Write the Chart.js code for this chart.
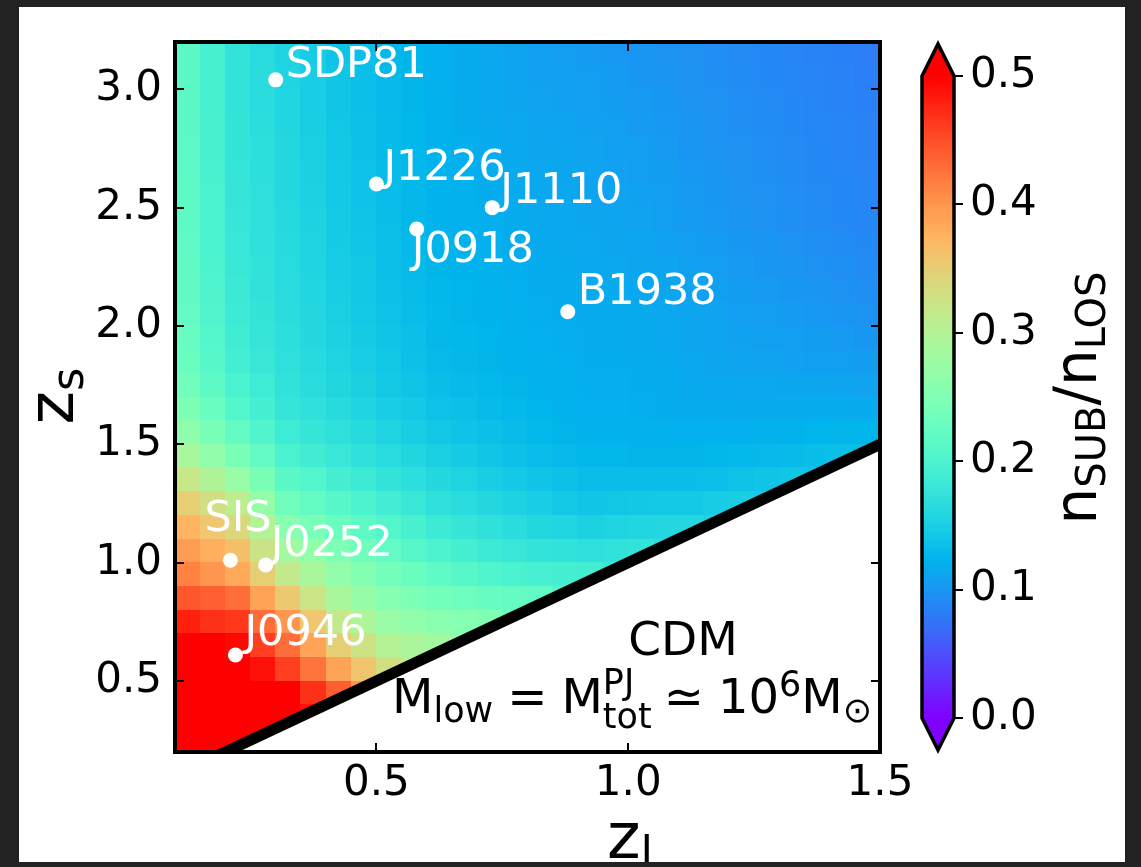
<!DOCTYPE html>
<html>
<head>
<meta charset="utf-8">
<style>
  body { margin: 0; background: #222; }
  #frame { position: absolute; left: 19px; top: 7px; width: 1106px; height: 855px; background: #fff; }
  canvas { display: block; }
</style>
<script src="https://cdn.jsdelivr.net/npm/chart.js"></script>
</head>
<body>
<div id="frame"><canvas id="chart" width="1106" height="855"></canvas></div>
<script>
  // grid of n_SUB/n_LOS, one cell = 0.05 in z_l by 0.1 in z_s
  const zlCenters = [0.125, 0.175, 0.225, 0.275, 0.325, 0.375, 0.425, 0.475, 0.525, 0.575,
                     0.625, 0.675, 0.725, 0.775, 0.825, 0.875, 0.925, 0.975, 1.025, 1.075,
                     1.125, 1.175, 1.225, 1.275, 1.325, 1.375, 1.425, 1.475];
  const zsCenters = [3.15, 3.05, 2.95, 2.85, 2.75, 2.65, 2.55, 2.45, 2.35, 2.25,
                     2.15, 2.05, 1.95, 1.85, 1.75, 1.65, 1.55, 1.45, 1.35, 1.25,
                     1.15, 1.05, 0.95, 0.85, 0.75, 0.65, 0.55, 0.45, 0.35, 0.25];
  const cellW = 0.05, cellH = 0.1;

  // rows top (z_s = 3.15) to bottom (z_s = 0.25); rows stop where the cells fall under z_s = z_l
  const ratio = [
    [0.215, 0.195, 0.175, 0.165, 0.155, 0.148, 0.14, 0.135, 0.129, 0.125, 0.121, 0.118, 0.114, 0.111, 0.108, 0.106, 0.104, 0.102, 0.1, 0.098, 0.096, 0.094, 0.092, 0.09, 0.088, 0.086, 0.084, 0.082],
    [0.215, 0.195, 0.175, 0.166, 0.156, 0.149, 0.141, 0.136, 0.13, 0.126, 0.121, 0.118, 0.115, 0.112, 0.109, 0.108, 0.106, 0.104, 0.101, 0.099, 0.097, 0.095, 0.093, 0.091, 0.089, 0.087, 0.085, 0.083],
    [0.215, 0.195, 0.175, 0.166, 0.157, 0.149, 0.141, 0.136, 0.13, 0.126, 0.122, 0.119, 0.115, 0.113, 0.11, 0.109, 0.107, 0.105, 0.103, 0.101, 0.098, 0.096, 0.094, 0.092, 0.09, 0.088, 0.086, 0.084],
    [0.215, 0.196, 0.176, 0.167, 0.158, 0.15, 0.142, 0.137, 0.131, 0.127, 0.122, 0.119, 0.116, 0.114, 0.112, 0.111, 0.109, 0.107, 0.104, 0.102, 0.099, 0.097, 0.095, 0.093, 0.091, 0.089, 0.087, 0.085],
    [0.216, 0.196, 0.176, 0.168, 0.159, 0.151, 0.143, 0.137, 0.131, 0.127, 0.123, 0.12, 0.117, 0.115, 0.113, 0.112, 0.11, 0.108, 0.106, 0.103, 0.1, 0.098, 0.096, 0.094, 0.092, 0.09, 0.088, 0.086],
    [0.216, 0.197, 0.177, 0.169, 0.16, 0.152, 0.144, 0.138, 0.132, 0.128, 0.123, 0.121, 0.118, 0.116, 0.114, 0.113, 0.111, 0.109, 0.107, 0.105, 0.102, 0.1, 0.097, 0.095, 0.093, 0.091, 0.089, 0.087],
    [0.217, 0.198, 0.178, 0.17, 0.161, 0.153, 0.145, 0.139, 0.133, 0.129, 0.124, 0.122, 0.119, 0.117, 0.115, 0.114, 0.112, 0.111, 0.109, 0.106, 0.103, 0.101, 0.098, 0.096, 0.094, 0.092, 0.09, 0.088],
    [0.217, 0.198, 0.179, 0.171, 0.162, 0.154, 0.146, 0.14, 0.134, 0.129, 0.124, 0.122, 0.12, 0.118, 0.116, 0.115, 0.113, 0.112, 0.11, 0.107, 0.104, 0.102, 0.099, 0.097, 0.095, 0.093, 0.091, 0.089],
    [0.218, 0.199, 0.18, 0.172, 0.163, 0.155, 0.147, 0.141, 0.135, 0.13, 0.125, 0.123, 0.121, 0.119, 0.117, 0.116, 0.114, 0.113, 0.112, 0.109, 0.106, 0.104, 0.101, 0.099, 0.097, 0.095, 0.093, 0.091],
    [0.219, 0.2, 0.181, 0.173, 0.164, 0.156, 0.148, 0.142, 0.136, 0.131, 0.126, 0.124, 0.122, 0.12, 0.118, 0.117, 0.115, 0.114, 0.113, 0.111, 0.108, 0.106, 0.103, 0.101, 0.099, 0.097, 0.095, 0.093],
    [0.22, 0.202, 0.183, 0.174, 0.165, 0.157, 0.149, 0.143, 0.137, 0.132, 0.127, 0.125, 0.123, 0.121, 0.119, 0.118, 0.116, 0.116, 0.115, 0.113, 0.11, 0.108, 0.105, 0.103, 0.101, 0.099, 0.097, 0.095],
    [0.222, 0.204, 0.185, 0.176, 0.166, 0.159, 0.151, 0.145, 0.138, 0.133, 0.128, 0.126, 0.124, 0.122, 0.12, 0.119, 0.117, 0.117, 0.116, 0.114, 0.112, 0.11, 0.107, 0.106, 0.104, 0.102, 0.1, 0.098],
    [0.225, 0.207, 0.188, 0.178, 0.168, 0.161, 0.153, 0.147, 0.14, 0.135, 0.129, 0.127, 0.125, 0.123, 0.121, 0.12, 0.118, 0.118, 0.117, 0.115, 0.113, 0.111, 0.109, 0.108, 0.106, 0.105, 0.103, 0.101],
    [0.229, 0.21, 0.192, 0.181, 0.17, 0.163, 0.155, 0.149, 0.142, 0.137, 0.131, 0.129, 0.126, 0.124, 0.122, 0.121, 0.119, 0.119, 0.118, 0.117, 0.115, 0.113, 0.111, 0.11, 0.109, 0.108, 0.107, 0.105],
    [0.236, 0.217, 0.198, 0.186, 0.173, 0.166, 0.158, 0.152, 0.145, 0.14, 0.134, 0.131, 0.128, 0.126, 0.123, 0.122, 0.12, 0.12, 0.119, 0.118, 0.116, 0.115, 0.114, 0.114, 0.113, 0.113, 0.112, 0.11],
    [0.248, 0.228, 0.207, 0.193, 0.178, 0.171, 0.163, 0.156, 0.149, 0.144, 0.138, 0.135, 0.131, 0.128, 0.125, 0.123, 0.121, 0.121, 0.12, 0.119, 0.118, 0.118, 0.117, 0.117, 0.117, 0.118, 0.118, 0.117],
    [0.265, 0.244, 0.222, 0.204, 0.186, 0.178, 0.17, 0.163, 0.155, 0.149, 0.143, 0.139, 0.135, 0.132, 0.128, 0.126, 0.123, 0.123, 0.122, 0.122, 0.121, 0.121, 0.121, 0.122, 0.123, 0.125, 0.126, 0.125],
    [0.29, 0.268, 0.245, 0.222, 0.198, 0.189, 0.18, 0.172, 0.164, 0.158, 0.151, 0.146, 0.141, 0.137, 0.133, 0.13, 0.127, 0.127, 0.126, 0.126, 0.126, 0.127, 0.128, 0.13, 0.131, 0.134, 0.136, 0.134],
    [0.32, 0.298, 0.275, 0.245, 0.215, 0.205, 0.194, 0.185, 0.176, 0.169, 0.161, 0.155, 0.149, 0.145, 0.14, 0.137, 0.133, 0.133, 0.133, 0.134, 0.134, 0.136, 0.138, 0.14, 0.142, 0.139],
    [0.35, 0.33, 0.31, 0.272, 0.235, 0.223, 0.21, 0.2, 0.19, 0.181, 0.172, 0.166, 0.159, 0.154, 0.149, 0.145, 0.141, 0.142, 0.143, 0.144, 0.145, 0.148, 0.15, 0.146],
    [0.375, 0.358, 0.34, 0.3, 0.258, 0.243, 0.228, 0.217, 0.206, 0.196, 0.185, 0.178, 0.171, 0.166, 0.16, 0.157, 0.153, 0.155, 0.157, 0.159, 0.16, 0.155],
    [0.395, 0.38, 0.365, 0.325, 0.285, 0.267, 0.248, 0.235, 0.222, 0.211, 0.2, 0.193, 0.185, 0.18, 0.175, 0.173, 0.17, 0.173, 0.175, 0.168],
    [0.415, 0.40, 0.385, 0.35, 0.315, 0.292, 0.268, 0.253, 0.238, 0.228, 0.218, 0.211, 0.203, 0.199, 0.195, 0.193, 0.19, 0.182],
    [0.445, 0.44, 0.43, 0.39, 0.355, 0.323, 0.29, 0.273, 0.255, 0.247, 0.238, 0.232, 0.225, 0.223, 0.22, 0.205],
    [0.48, 0.47, 0.465, 0.43, 0.40, 0.358, 0.315, 0.295, 0.275, 0.268, 0.26, 0.255, 0.25, 0.235],
    [0.51, 0.50, 0.495, 0.46, 0.43, 0.39, 0.35, 0.325, 0.30, 0.293, 0.285, 0.268],
    [0.55, 0.535, 0.52, 0.49, 0.46, 0.425, 0.39, 0.36, 0.33, 0.31],
    [0.58, 0.565, 0.55, 0.525, 0.50, 0.47, 0.44, 0.40],
    [0.60, 0.59, 0.58, 0.55, 0.52, 0.49],
    [0.60, 0.60, 0.60, 0.56]
  ];

  // observed lenses
  const lensNames = ["SDP81", "J1226", "J1110", "J0918", "B1938", "SIS", "J0252", "J0946"];
  const lensZl = [0.30, 0.50, 0.73, 0.58, 0.88, 0.21, 0.28, 0.22];
  const lensZs = [3.04, 2.60, 2.50, 2.41, 2.06, 1.01, 0.99, 0.61];

  // z_s = z_l boundary
  const boundZl = [0.1, 1.5];
  const boundZs = [0.1, 1.5];

  const xTicks = [0.5, 1.0, 1.5];
  const yTicks = [0.5, 1.0, 1.5, 2.0, 2.5, 3.0];
  const cbTicks = [0.0, 0.1, 0.2, 0.3, 0.4, 0.5];
  const vMin = 0.0, vMax = 0.5;

  // label placement: [dx, dy] from the dot to the text start / baseline
  const labelOffsets = [[10, -3], [7, -4], [8, -5], [-5, 33], [10, -8], [-26, -29], [5, -9], [9, -10]];

  const FONT = '"DejaVu Sans"';

  // matplotlib "rainbow"
  function rainbow(v) {
    const t = Math.max(0, Math.min(1, (v - vMin) / (vMax - vMin)));
    const r = Math.min(1, Math.abs(2 * t - 0.5));
    const g = Math.sin(Math.PI * t);
    const b = Math.cos(Math.PI * t / 2);
    return "rgb(" + Math.round(r * 255) + "," + Math.round(g * 255) + "," + Math.round(b * 255) + ")";
  }

  // draw text pieces with sub/superscripts, parts = {t, size, dy, gap, stack}
  function mathWidth(ctx, parts) {
    let w = 0;
    parts.forEach(p => {
      if (p.gap) { w += p.gap; return; }
      ctx.font = p.size + "px " + FONT;
      p.w = ctx.measureText(p.t).width;
      if (!p.stack) w += p.w;
    });
    return w;
  }
  function drawMath(ctx, parts, x, y) {
    let cx = x;
    parts.forEach(p => {
      if (p.gap) { cx += p.gap; return; }
      ctx.font = p.size + "px " + FONT;
      ctx.fillText(p.t, cx, y + (p.dy || 0));
      if (!p.stack) cx += p.w;
    });
  }

  // keep the plot box where it is: no extra room for tick labels
  function noPad(s) {
    s.paddingTop = 0; s.paddingBottom = 0; s.paddingLeft = 0; s.paddingRight = 0;
  }

  const heatmapPlugin = {
    id: "heatmap",
    beforeDatasetsDraw(chart) {
      const { ctx, chartArea: a, scales: { x, y } } = chart;
      ctx.save();
      ctx.beginPath();
      ctx.rect(a.left, a.top, a.width, a.height);
      ctx.clip();
      // only the part above z_s = z_l
      ctx.beginPath();
      ctx.moveTo(a.left, a.top);
      ctx.lineTo(a.right, a.top);
      ctx.lineTo(x.getPixelForValue(boundZl[1]), y.getPixelForValue(boundZs[1]));
      ctx.lineTo(x.getPixelForValue(boundZl[0]), y.getPixelForValue(boundZs[0]));
      ctx.closePath();
      ctx.clip();
      ratio.forEach((row, j) => {
        row.forEach((v, i) => {
          if (v == null) return;
          const x0 = Math.floor(x.getPixelForValue(zlCenters[i] - cellW / 2));
          const x1 = Math.ceil(x.getPixelForValue(zlCenters[i] + cellW / 2));
          const y0 = Math.floor(y.getPixelForValue(zsCenters[j] + cellH / 2));
          const y1 = Math.ceil(y.getPixelForValue(zsCenters[j] - cellH / 2));
          ctx.fillStyle = rainbow(v);
          ctx.fillRect(x0, y0, x1 - x0, y1 - y0);
        });
      });
      ctx.restore();
    },
    afterDatasetsDraw(chart) {
      const ctx = chart.ctx;
      const meta = chart.getDatasetMeta(0);
      ctx.save();
      ctx.fillStyle = "#fff";
      ctx.font = "43px " + FONT;
      ctx.textBaseline = "alphabetic";
      ctx.textAlign = "left";
      meta.data.forEach((pt, i) => {
        ctx.fillText(lensNames[i], pt.x + labelOffsets[i][0], pt.y + labelOffsets[i][1]);
      });
      ctx.restore();
    },
    afterDraw(chart) {
      const { ctx, chartArea: a, scales: { x, y, cb } } = chart;
      ctx.save();

      // frame and inward ticks
      ctx.strokeStyle = "#000";
      ctx.lineWidth = 2;
      ctx.beginPath();
      xTicks.forEach(v => {
        const px = Math.round(x.getPixelForValue(v));
        ctx.moveTo(px, a.bottom); ctx.lineTo(px, a.bottom - 9);
        ctx.moveTo(px, a.top); ctx.lineTo(px, a.top + 9);
      });
      yTicks.forEach(v => {
        const py = Math.round(y.getPixelForValue(v));
        ctx.moveTo(a.left, py); ctx.lineTo(a.left + 9, py);
        ctx.moveTo(a.right, py); ctx.lineTo(a.right - 9, py);
      });
      ctx.stroke();
      ctx.lineWidth = 4;
      ctx.strokeRect(a.left, a.top, a.width, a.height);

      // colorbar
      const bx0 = 903, bx1 = 935, bxm = (bx0 + bx1) / 2, tip = 32;
      const yLo = cb.getPixelForValue(vMin), yHi = cb.getPixelForValue(vMax);
      for (let k = 0; k < 200; k++) {
        const v0 = vMin + (vMax - vMin) * k / 200, v1 = vMin + (vMax - vMin) * (k + 1) / 200;
        const p0 = cb.getPixelForValue(v0), p1 = cb.getPixelForValue(v1);
        ctx.fillStyle = rainbow((v0 + v1) / 2);
        ctx.fillRect(bx0, Math.floor(p1), bx1 - bx0, Math.ceil(p0) - Math.floor(p1));
      }
      ctx.fillStyle = rainbow(vMax);
      ctx.beginPath();
      ctx.moveTo(bx0, yHi); ctx.lineTo(bxm, yHi - tip); ctx.lineTo(bx1, yHi); ctx.closePath();
      ctx.fill();
      ctx.fillStyle = rainbow(vMin);
      ctx.beginPath();
      ctx.moveTo(bx0, yLo); ctx.lineTo(bxm, yLo + tip); ctx.lineTo(bx1, yLo); ctx.closePath();
      ctx.fill();
      ctx.lineWidth = 3.5;
      ctx.lineJoin = "miter";
      ctx.beginPath();
      ctx.moveTo(bx0, yHi); ctx.lineTo(bxm, yHi - tip); ctx.lineTo(bx1, yHi);
      ctx.lineTo(bx1, yLo); ctx.lineTo(bxm, yLo + tip); ctx.lineTo(bx0, yLo);
      ctx.closePath();
      ctx.stroke();
      ctx.lineWidth = 2;
      ctx.beginPath();
      cbTicks.forEach(v => {
        const py = Math.round(cb.getPixelForValue(v));
        ctx.moveTo(bx1, py); ctx.lineTo(bx1 + 9, py);
      });
      ctx.stroke();

      // texts
      ctx.fillStyle = "#000";
      ctx.textBaseline = "alphabetic";
      ctx.textAlign = "left";

      const xl = [{ t: "z", size: 64 }, { t: "l", size: 45, dy: 10 }];
      drawMath(ctx, xl, 611 - mathWidth(ctx, xl) / 2, 851);

      const yl = [{ t: "z", size: 64 }, { t: "s", size: 45, dy: 10 }];
      ctx.save();
      ctx.translate(54, 389);
      ctx.rotate(-Math.PI / 2);
      drawMath(ctx, yl, -mathWidth(ctx, yl) / 2, 0);
      ctx.restore();

      const cl = [{ t: "n", size: 58 }, { t: "SUB", size: 40, dy: 9 }, { t: "/n", size: 58 }, { t: "LOS", size: 40, dy: 9 }];
      ctx.save();
      ctx.translate(1077, 391);
      ctx.rotate(-Math.PI / 2);
      drawMath(ctx, cl, -mathWidth(ctx, cl) / 2, 0);
      ctx.restore();

      ctx.font = "47px " + FONT;
      ctx.textAlign = "center";
      ctx.fillText("CDM", 664, 648);
      ctx.textAlign = "left";
      const eq = [
        { t: "M", size: 48 }, { t: "low", size: 35, dy: 9 }, { gap: 14 },
        { t: "=", size: 48 }, { gap: 14 },
        { t: "M", size: 48 }, { t: "PJ", size: 35, dy: -19, stack: true }, { t: "tot", size: 35, dy: 15 }, { gap: 12 },
        { t: "\u2243", size: 48 }, { gap: 14 },
        { t: "10", size: 48 }, { t: "6", size: 35, dy: -17 },
        { t: "M", size: 48 }, { t: "\u2299", size: 35, dy: 9 }
      ];
      drawMath(ctx, eq, 853 - mathWidth(ctx, eq), 706);
      ctx.restore();
    }
  };

  const ctx = document.getElementById("chart").getContext("2d");
  const chart = new Chart(ctx, {
    type: "scatter",
    data: {
      datasets: [
        {
          label: "Lenses",
          data: lensZl.map((v, i) => ({ x: v, y: lensZs[i] })),
          pointRadius: 7.5,
          pointBackgroundColor: "#fff",
          pointBorderWidth: 0,
          pointHoverRadius: 7.5
        },
        {
          label: "z_s = z_l",
          data: boundZl.map((v, i) => ({ x: v, y: boundZs[i] })),
          showLine: true,
          borderColor: "#000",
          borderWidth: 11,
          pointRadius: 0,
          clip: 0
        }
      ]
    },
    options: {
      responsive: false,
      animation: false,
      devicePixelRatio: 1,
      layout: { padding: { top: 35, left: 0, right: 0, bottom: 0 } },
      plugins: { legend: { display: false }, tooltip: { enabled: false } },
      scales: {
        x: {
          type: "linear", min: 0.1, max: 1.5,
          afterBuildTicks: s => { s.ticks = xTicks.map(v => ({ value: v })); },
          afterFit: s => { s.height = 110; noPad(s); },
          grid: { display: false, drawTicks: false },
          border: { display: false },
          ticks: {
            color: "#000", padding: 7, maxRotation: 0, autoSkip: false,
            font: { family: "DejaVu Sans", size: 42 },
            callback: v => v.toFixed(1)
          }
        },
        y: {
          type: "linear", min: 0.2, max: 3.2,
          afterBuildTicks: s => { s.ticks = yTicks.map(v => ({ value: v })); },
          afterFit: s => { s.width = 156; noPad(s); },
          grid: { display: false, drawTicks: false },
          border: { display: false },
          ticks: {
            color: "#000", padding: 13, autoSkip: false,
            font: { family: "DejaVu Sans", size: 42 },
            callback: v => v.toFixed(1)
          }
        },
        cb: {
          type: "linear", position: "right",
          // 0.0 and 0.5 sit 34 px inside the plot box edges
          min: -0.0265, max: 0.5265,
          afterBuildTicks: s => { s.ticks = cbTicks.map(v => ({ value: v })); },
          afterFit: s => { s.width = 245; noPad(s); },
          grid: { display: false, drawTicks: false },
          border: { display: false },
          ticks: {
            color: "#000", padding: 90, autoSkip: false,
            font: { family: "DejaVu Sans", size: 42 },
            callback: v => v.toFixed(1)
          }
        }
      }
    },
    plugins: [heatmapPlugin]
  });
</script>
</body>
</html>
